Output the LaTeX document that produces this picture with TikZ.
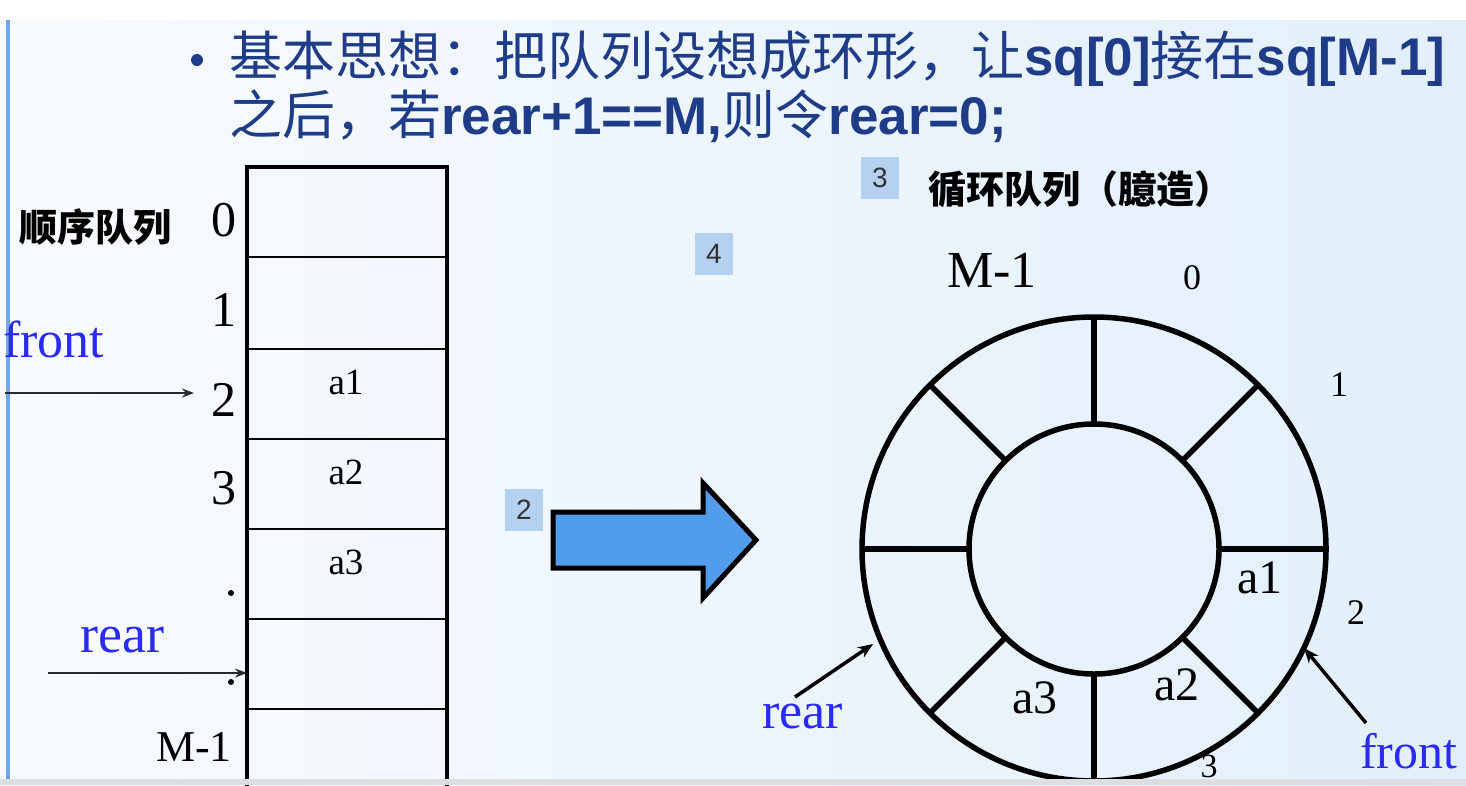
\documentclass[tikz,border=0pt]{standalone}
\usepackage{fontspec}
\setmainfont{Liberation Serif}
\newfontfamily\cjk{Noto Sans CJK SC}
\newfontfamily\arialf{Liberation Sans}
\usetikzlibrary{arrows.meta,calc}
\definecolor{titleblue}{HTML}{1F3C88}
\definecolor{ptrblue}{HTML}{2A2AF5}
\definecolor{badgefill}{HTML}{B5D1F2}
\definecolor{arrowfill}{HTML}{519DEB}
\definecolor{bgL}{HTML}{F8FBFE}
\definecolor{bgR}{HTML}{E2EFFB}
\definecolor{sidebar}{HTML}{6FA4EC}
\definecolor{bottomgray}{HTML}{DCDEE0}
\definecolor{ptrline}{HTML}{2A2A2A}
\begin{document}
\begin{tikzpicture}[x=1pt,y=-1pt,
  txt/.style={inner sep=0pt, font=\fontsize{#1}{#1}\selectfont},
  ptr/.style={inner sep=0pt, text=ptrblue, font=\fontsize{#1}{#1}\selectfont},
  badge/.style={fill=badgefill, inner sep=0pt, minimum width=38pt, minimum height=42pt,
    text=black!80, font=\arialf\fontsize{28}{28}\selectfont},
  cjklabel/.style={inner sep=0pt, font=\cjk\bfseries\fontsize{#1}{#1}\selectfont},
  thinptr/.style={draw=ptrline, line width=2pt, -{Stealth[length=12pt,width=9pt]}},
  ringptr/.style={draw=black, line width=3.5pt, -{Stealth[length=15pt,width=12pt]}},
  ringline/.style={line width=5.5pt},
]
\useasboundingbox (0,0) rectangle (1466,785);
\clip (0,0) rectangle (1466,785);
% background
\fill[white] (0,0) rectangle (1466,785);
\shade[left color=bgL, right color=bgR] (0,20) rectangle (1466,785);
\fill[sidebar] (6,20) rectangle (10,785);

% title
\fill[titleblue] (197,60) circle[radius=6];
\node[txt=53, anchor=base west, text=titleblue] (t1) at (229,75)
  {\cjk 基本思想：把队列设想成环形，让{\arialf\bfseries sq[0]}接在{\arialf\bfseries sq[M-1]}};
\node[txt=53, anchor=base west, text=titleblue] (t2) at (229,134)
  {\cjk 之后，若{\arialf\bfseries rear+1==M,}则令{\arialf\bfseries rear=0;}};

% sequential queue table
\foreach \yy in {257,349,439,529,619,709}
  \draw[line width=2.5pt] (247,\yy) -- (447,\yy);
\draw[line width=4pt] (247,167) rectangle (447,800);
\node[cjklabel=38] (seqq) at (95,227) {顺序队列};
\node[txt=50] (d0) at (224,220) {0};
\node[txt=50] (d1) at (224,310) {1};
\node[txt=50] (d2) at (224,400) {2};
\node[txt=50] (d3) at (224,488) {3};
\fill (231,593) circle[radius=3];
\fill (231,682) circle[radius=3];
\node[txt=44] (dm) at (194,747) {M-1};
\node[txt=37] (c1) at (346,382) {a1};
\node[txt=37] (c2) at (346,472) {a2};
\node[txt=37] (c3) at (346,562) {a3};
\node[ptr=52, anchor=base west] (front1) at (3,357) {front};
\node[ptr=54, anchor=base west] (rear1) at (80,652) {rear};
\coordinate (f1s) at (5,393);
\coordinate (f1e) at (194,393);
\coordinate (r1s) at (48,673);
\coordinate (r1e) at (247,673);
\draw[thinptr] (f1s) -- (f1e);
\draw[thinptr] (r1s) -- (r1e);

% big arrow
\draw[line width=5pt, fill=arrowfill, line join=miter]
  (553,512) -- (703,512) -- (703,483) -- (756,540) -- (703,598) -- (703,568) -- (553,568) -- cycle;

% badges
\node[badge] (b2) at (524,510) {2};
\node[badge] (b4) at (714,254) {4};
\node[badge] (b3) at (880,178) {3};
\node[cjklabel=38] (circt) at (1080,189) {循环队列（臆造）};

% ring
\coordinate (c) at (1094,549);
\draw[ringline] (c) circle[radius=232];
\draw[ringline] (c) circle[radius=125];
\foreach \a in {0,45,...,315}
  \draw[ringline] ($(c)+(\a:125)$) -- ($(c)+(\a:232)$);
\node[txt=52] (rm) at (992,270) {M-1};
\node[txt=36] (r0) at (1192,278) {0};
\node[txt=36] (r1) at (1339,385) {1};
\node[txt=36] (r2) at (1356,613) {2};
\node[txt=34, anchor=base] (r3) at (1209,777) {3};
\node[txt=48] (ra1) at (1260,578) {a1};
\node[txt=48] (ra2) at (1177,685) {a2};
\node[txt=48] (ra3) at (1035,698) {a3};
\node[ptr=52, anchor=base west] (rear2) at (762,728) {rear};
\node[ptr=50, anchor=base west] (front2) at (1360,768) {front};
\coordinate (r2s) at (795,697);
\coordinate (r2e) at (873,644);
\coordinate (f2s) at (1366,723);
\coordinate (f2e) at (1304,648);
\draw[ringptr] (r2s) -- (r2e);
\draw[ringptr] (f2s) -- (f2e);

\fill[bottomgray] (0,779) rectangle (1466,785);
\end{tikzpicture}
\end{document}
